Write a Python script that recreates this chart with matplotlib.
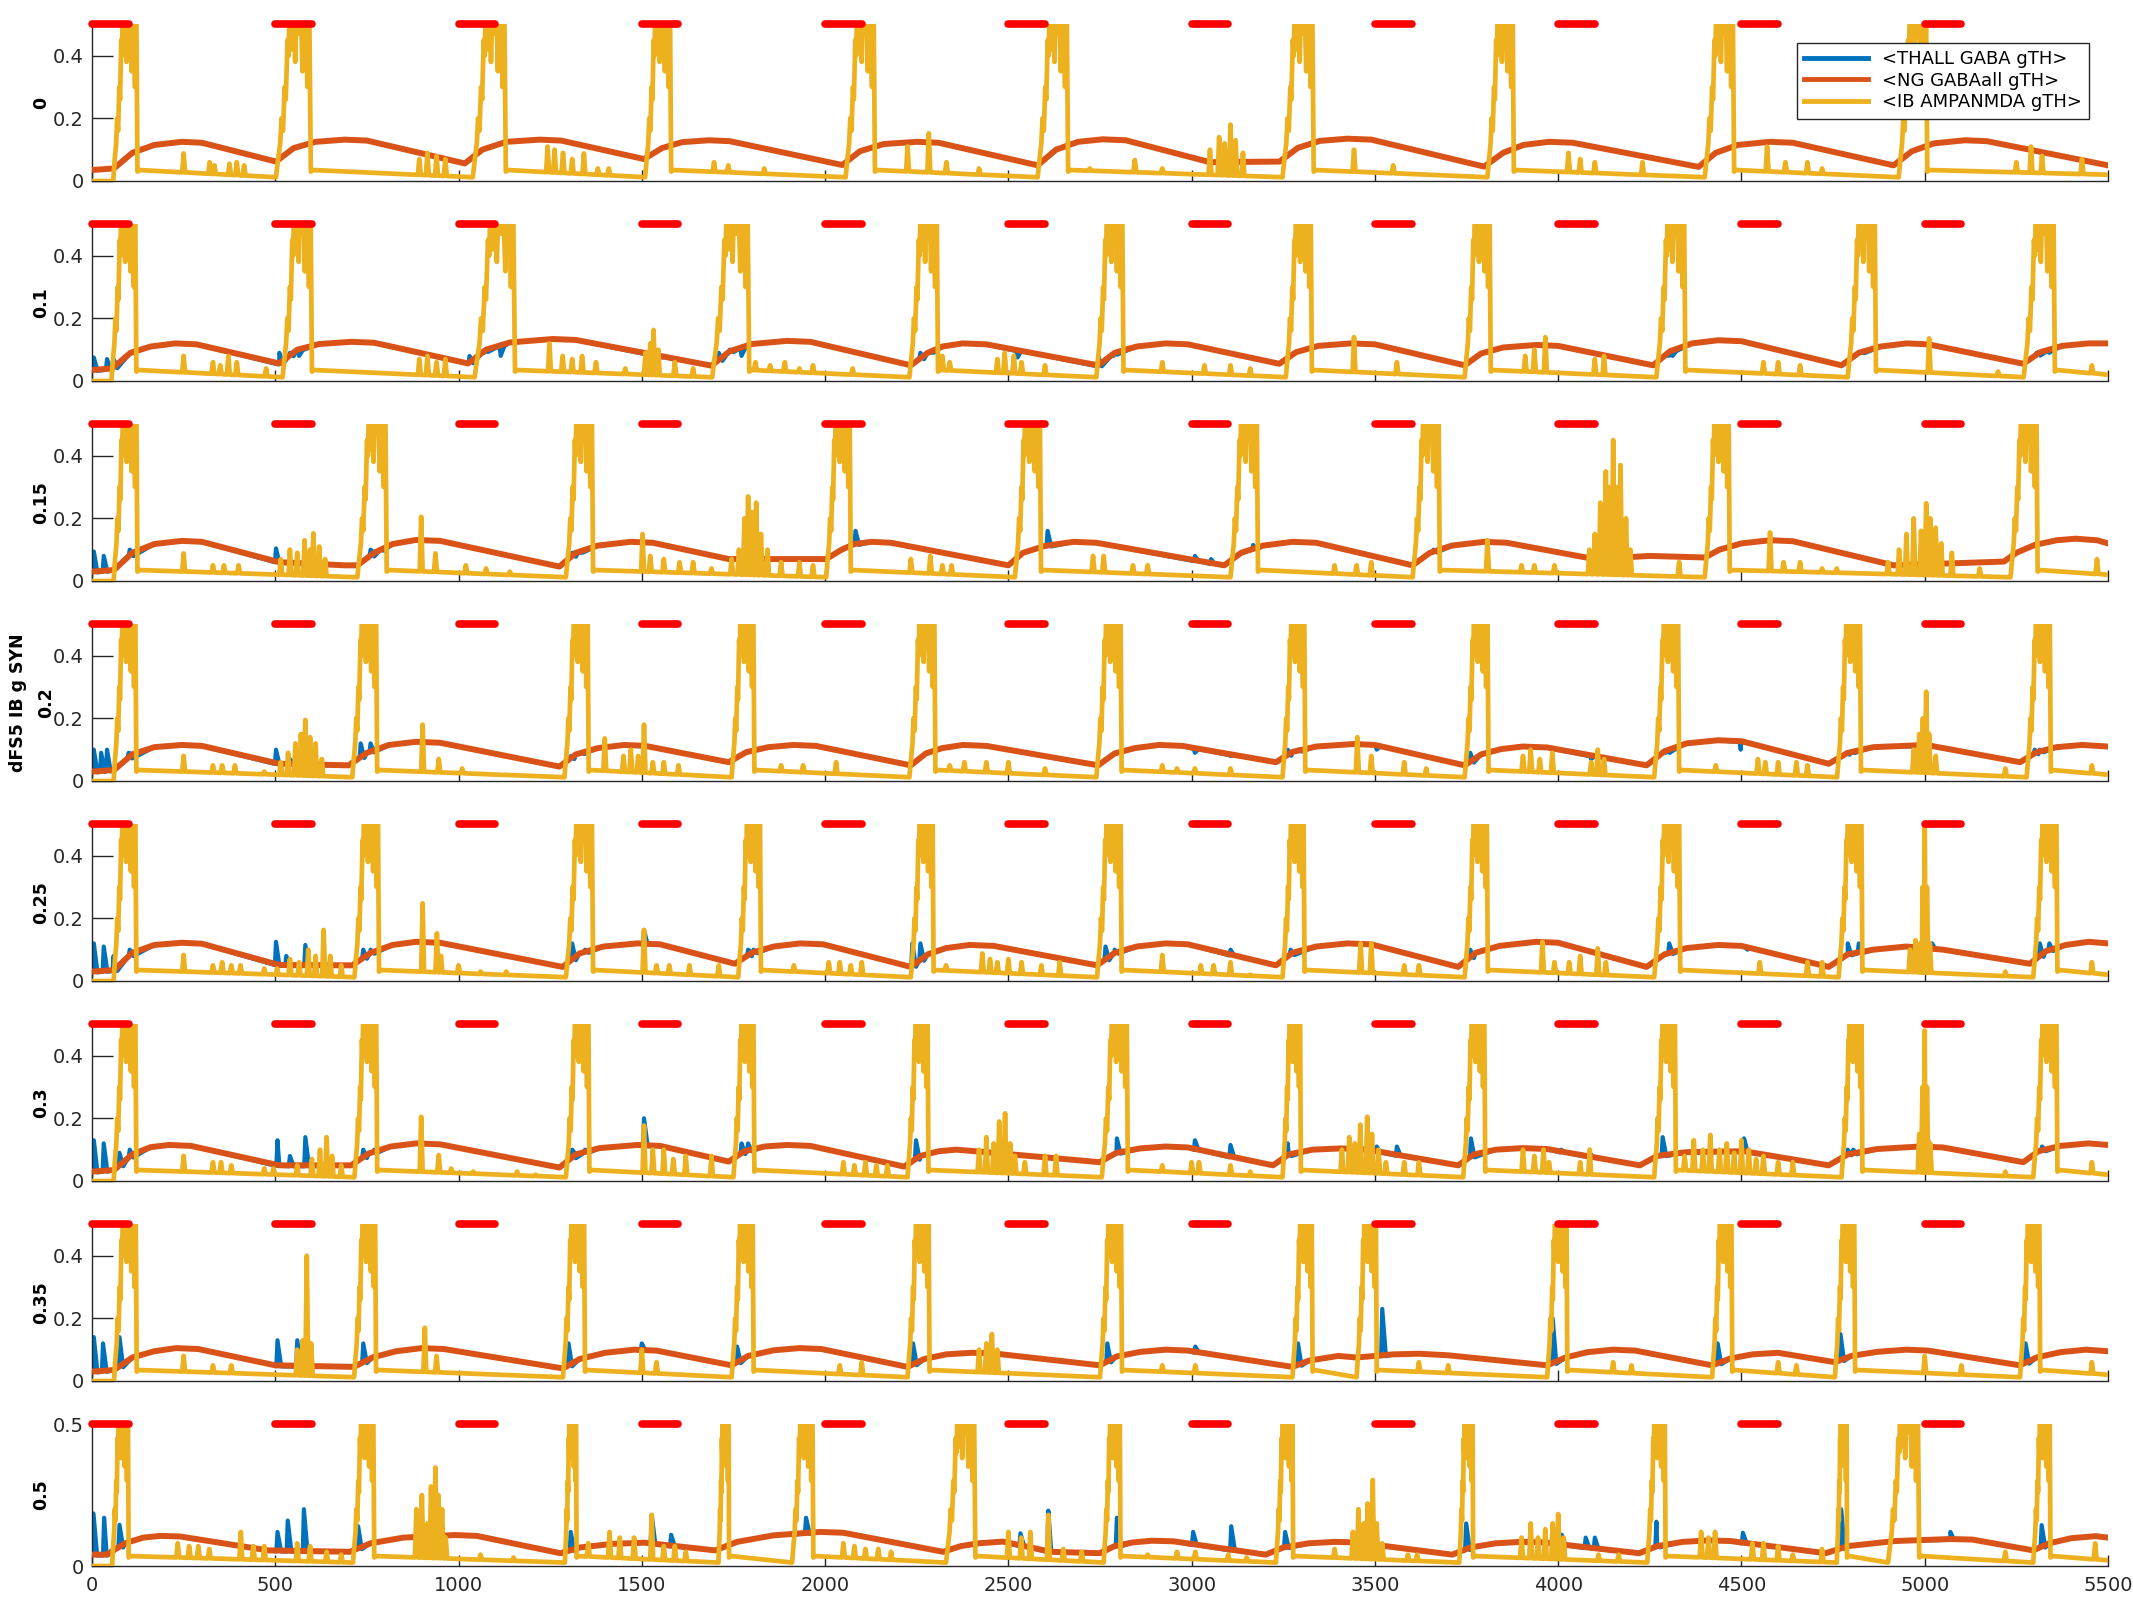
import numpy as np
import matplotlib.pyplot as plt
from matplotlib.lines import Line2D

T_END = 5500
stim_starts = [0, 500, 1000, 1500, 2000, 2500, 3000, 3500, 4000, 4500, 5000]
stim_len = 100
panel_labels = ['0', '0.1', '0.15', '0.2', '0.25', '0.3', '0.35', '0.5']
legend_labels = ['<THALL GABA gTH>', '<NG GABAall gTH>', '<IB AMPANMDA gTH>']

# ---- panel 0 ----
ib_bursts_g0 = [(58, 124), (502, 597), (1039, 1129), (1509, 1580), (2056, 2136), (2580, 2663),
                (3248, 3333), (3807, 3879), (4400, 4480), (4929, 5007)]
ib_spikes_g0 = [(250, .088), (321, .06), (334, .05), (375, .055), (395, .06), (415, .05), (893, .07),
                (915, .09), (940, .08), (964, .07), (1243, .11), (1262, .1), (1285, .09), (1310, .07),
                (1342, .088), (1380, .04), (1410, .04), (1697, .06), (1736, .05), (1834, .04), (2225, .11),
                (2283, .152), (2331, .06), (2420, .04), (2722, .04), (2845, .067), (2920, .04), (3050, .1),
                (3075, .14), (3090, .12), (3106, .18), (3120, .13), (3140, .09), (3443, .1), (3550, .05),
                (4028, .09), (4060, .07), (4100, .06), (4230, .06), (4570, .11), (4620, .06), (4680, .06),
                (4720, .04), (5250, .06), (5290, .11), (5320, .08), (5429, .07)]
ng_t_g0 = [0, 60, 110, 170, 245, 300, 502, 550, 610, 689, 750, 1017, 1065, 1130, 1222, 1280, 1506, 1555,
           1610, 1683, 1740, 2047, 2095, 2160, 2251, 2310, 2580, 2630, 2690, 2757, 2820, 3050, 3240, 3290,
           3350, 3425, 3490, 3798, 3850, 3905, 3975, 4040, 4383, 4430, 4490, 4578, 4640, 4915, 4965, 5025,
           5110, 5170, 5500]
ng_v_g0 = [.035, .04, .09, .115, .125, .122, .062, .105, .125, .132, .129, .056, .1, .125, .132, .129, .07,
           .105, .124, .13, .127, .051, .095, .118, .125, .122, .05, .1, .125, .133, .13, .06, .062, .106,
           .128, .135, .132, .046, .09, .115, .125, .122, .045, .09, .115, .125, .122, .05, .095, .12, .13,
           .127, .05]
th_spikes_g0 = []

# ---- panel 0.1 ----
ib_bursts_g01 = [(53, 121), (520, 600), (1044, 1154), (1692, 1793), (2230, 2308), (2740, 2814),
                 (3257, 3328), (3745, 3816), (4268, 4347), (4790, 4867), (5270, 5355)]
ib_spikes_g01 = [(250, .08), (330, .06), (350, .05), (372, .08), (395, .06), (475, .04), (893, .07),
                 (915, .08), (940, .06), (964, .07), (1248, .12), (1284, .08), (1310, .07), (1337, .08),
                 (1375, .06), (1455, .04), (1510, .09), (1523, .12), (1532, .163), (1545, .1), (1590, .06),
                 (1640, .04), (1810, .06), (1850, .05), (1890, .06), (1930, .04), (1967, .05), (2075, .04),
                 (2320, .08), (2340, .06), (2470, .07), (2490, .09), (2515, .08), (2536, .06), (2600, .05),
                 (2920, .06), (3035, .05), (3106, .05), (3160, .04), (3443, .14), (3560, .06), (3910, .08),
                 (3935, .1), (3965, .14), (4100, .07), (4125, .08), (4560, .06), (4600, .06), (4660, .05),
                 (5012, .136), (5200, .03), (5456, .05)]
ng_t_g01 = [0, 55, 105, 160, 227, 285, 511, 560, 620, 707, 770, 1026, 1075, 1140, 1257, 1320, 1690, 1740,
            1800, 1896, 1960, 2234, 2280, 2320, 2375, 2440, 2745, 2790, 2850, 2929, 2990, 3239, 3285, 3345,
            3434, 3500, 3745, 3790, 3850, 3940, 4000, 4259, 4305, 4365, 4436, 4500, 4773, 4820, 4880, 4950,
            5010, 5269, 5315, 5375, 5447, 5500]
ng_v_g01 = [.035, .04, .09, .11, .12, .117, .056, .1, .118, .125, .122, .056, .1, .123, .134, .131, .049,
            .095, .118, .128, .125, .05, .09, .11, .12, .117, .05, .09, .11, .12, .117, .055, .092, .112, .12,
            .117, .05, .088, .107, .115, .112, .05, .095, .12, .13, .127, .05, .09, .11, .12, .117, .055,
            .092, .112, .12, .12]
th_spikes_g01 = [(5, .075), (41, .07), (59, .07), (511, .09), (540, .09), (565, .08), (1030, .08),
                 (1070, .09), (1115, .08), (1520, .08), (1560, .08), (1594, .07), (1710, .09), (1740, .1),
                 (1772, .08), (2260, .09), (2287, .09), (2525, .075), (2745, .08), (2787, .08), (4294, .08),
                 (4312, .08), (4826, .09), (5305, .09), (5340, .09)]

# ---- panel 0.15 ----
ib_bursts_g015 = [(59, 124), (724, 804), (1293, 1367), (2003, 2070), (2518, 2589), (3106, 3181),
                  (3603, 3677), (4400, 4468), (5234, 5308)]
ib_spikes_g015 = [(250, .088), (330, .05), (360, .05), (400, .05), (515, .07), (540, .1), (560, .09),
                  (580, .13), (595, .1), (604, .152), (620, .11), (636, .07), (898, .205), (937, .088),
                  (1020, .05), (1075, .04), (1140, .03), (1502, .15), (1523, .08), (1560, .07), (1603, .06),
                  (1640, .06), (1690, .04), (1745, .07), (1765, .1), (1780, .2), (1790, .27), (1800, .22),
                  (1812, .25), (1825, .15), (1843, .1), (1880, .06), (1930, .06), (1967, .05), (2234, .07),
                  (2287, .08), (2320, .05), (2345, .05), (2731, .08), (2760, .08), (2840, .05), (2880, .05),
                  (3390, .05), (3450, .05), (3490, .06), (3807, .13), (3900, .05), (3935, .05), (3990, .05),
                  (4085, .1), (4100, .15), (4115, .25), (4130, .35), (4140, .3), (4150, .45), (4160, .3),
                  (4170, .37), (4185, .2), (4197, .1), (4330, .06), (4578, .155), (4615, .06), (4660, .06),
                  (4720, .04), (4760, .04), (4900, .06), (4930, .1), (4950, .15), (4970, .2), (4990, .16),
                  (5004, .248), (5015, .2), (5030, .17), (5045, .12), (5074, .09), (5150, .04), (5470, .07)]
ng_t_g015 = [0, 60, 110, 170, 245, 300, 511, 690, 724, 770, 820, 884, 950, 1275, 1320, 1380, 1470, 1530,
             1737, 1990, 2003, 2045, 2080, 2127, 2180, 2500, 2540, 2600, 2678, 2740, 3089, 3135, 3195, 3275,
             3340, 3603, 3650, 3710, 3798, 3860, 4099, 4250, 4400, 4440, 4500, 4578, 4640, 4915, 5216, 5250,
             5300, 5360, 5411, 5470, 5500]
ng_v_g015 = [.03, .035, .09, .118, .128, .125, .06, .05, .05, .09, .118, .131, .128, .046, .09, .113, .125,
             .122, .07, .07, .07, .1, .118, .125, .122, .05, .09, .112, .125, .122, .05, .09, .113, .125,
             .122, .05, .09, .113, .125, .122, .07, .08, .075, .1, .12, .13, .127, .05, .062, .09, .115, .13,
             .135, .13, .12]
th_spikes_g015 = [(5, .094), (32, .08), (103, .1), (502, .104), (760, .1), (787, .1), (1310, .09),
                  (1330, .09), (2083, .16), (2607, .16), (3009, .08), (3053, .07), (3168, .115), (3660, .1)]

# ---- panel 0.2 ----
ib_bursts_g02 = [(59, 121), (710, 778), (1289, 1355), (1745, 1807), (2230, 2301), (2740, 2809),
                 (3248, 3310), (3745, 3810), (4262, 4330), (4761, 4826), (5278, 5344)]
ib_spikes_g02 = [(250, .08), (330, .05), (355, .05), (390, .05), (470, .03), (515, .06), (535, .09),
                 (555, .12), (570, .15), (582, .195), (595, .14), (610, .12), (627, .07), (902, .18),
                 (946, .07), (1010, .04), (1130, .02), (1399, .136), (1450, .08), (1470, .1), (1490, .08),
                 (1506, .18), (1530, .06), (1560, .06), (1600, .05), (1880, .05), (1940, .05), (2030, .06),
                 (2340, .05), (2380, .06), (2440, .06), (2500, .06), (2600, .04), (2920, .05), (2960, .04),
                 (3009, .04), (3106, .04), (3452, .14), (3490, .08), (3580, .06), (3640, .04), (3904, .08),
                 (3925, .1), (3950, .07), (3984, .09), (4090, .06), (4108, .1), (4125, .07), (4430, .05),
                 (4545, .07), (4565, .06), (4600, .06), (4650, .06), (4680, .05), (4970, .1), (4985, .15),
                 (4995, .2), (5004, .285), (5012, .15), (5030, .08), (5220, .04), (5456, .05)]
ng_t_g02 = [0, 60, 110, 170, 245, 300, 511, 700, 750, 810, 884, 950, 1275, 1320, 1380, 1452, 1510, 1737,
            1785, 1845, 1914, 1975, 2234, 2275, 2320, 2376, 2440, 2745, 2790, 2845, 2911, 2975, 3230, 3275,
            3340, 3443, 3500, 3745, 3790, 3845, 3904, 3970, 4241, 4290, 4350, 4436, 4500, 4738, 4790, 4860,
            5004, 5260, 5305, 5360, 5429, 5500]
ng_v_g02 = [.03, .035, .085, .108, .115, .112, .055, .05, .09, .115, .125, .122, .046, .085, .105, .115,
            .112, .06, .092, .108, .115, .112, .05, .088, .105, .115, .112, .05, .088, .105, .115, .112, .06,
            .093, .11, .118, .115, .05, .085, .102, .11, .107, .05, .095, .12, .13, .127, .055, .09, .108,
            .115, .06, .092, .108, .115, .11]
th_spikes_g02 = [(5, .1), (25, .09), (41, .1), (100, .09), (502, .1), (540, .07), (582, .07), (733, .12),
                 (760, .12), (1306, .08), (1333, .09), (3009, .09), (3106, .08), (3262, .1), (3290, .1),
                 (3505, .1), (3760, .09), (4090, .07), (4290, .09), (4305, .09), (4498, .1), (4785, .09),
                 (4800, .09), (5004, .11), (5300, .1), (5314, .1)]

# ---- panel 0.25 ----
ib_bursts_g025 = [(59, 121), (716, 783), (1293, 1367), (1763, 1825), (2234, 2296), (2742, 2809),
                  (3248, 3308), (3745, 3808), (4262, 4333), (4765, 4830), (5296, 5362)]
ib_spikes_g025 = [(250, .083), (330, .05), (355, .06), (380, .05), (405, .05), (470, .04), (505, .04),
                  (540, .07), (565, .06), (590, .1), (610, .08), (632, .163), (650, .08), (680, .05),
                  (902, .248), (941, .152), (952, .08), (1000, .05), (1060, .03), (1130, .03), (1506, .163),
                  (1540, .05), (1575, .05), (1630, .05), (1710, .05), (1915, .05), (2010, .06), (2040, .06),
                  (2070, .05), (2100, .06), (2330, .05), (2429, .088), (2450, .07), (2470, .06), (2500, .07),
                  (2536, .06), (2590, .05), (2640, .06), (2920, .083), (3025, .05), (3060, .05), (3106, .06),
                  (3160, .02), (3461, .12), (3490, .12), (3580, .05), (3620, .05), (3957, .125), (3990, .06),
                  (4030, .06), (4060, .08), (4108, .104), (4130, .06), (4550, .06), (4680, .06), (4720, .06),
                  (4960, .1), (4975, .13), (4988, .12), (4994, .3), (5000, .56), (5006, .3), (5014, .12),
                  (5220, .03), (5456, .06)]
ng_t_g025 = [0, 60, 110, 170, 245, 300, 511, 710, 760, 820, 884, 950, 1284, 1330, 1395, 1488, 1550, 1754,
             1800, 1860, 1932, 1995, 2234, 2280, 2330, 2394, 2460, 2742, 2790, 2850, 2929, 2990, 3230, 3275,
             3340, 3425, 3490, 3727, 3775, 3840, 3940, 4000, 4241, 4290, 4350, 4436, 4500, 4738, 4790, 4860,
             4950, 5050, 5287, 5330, 5385, 5447, 5500]
ng_v_g025 = [.03, .035, .09, .115, .122, .119, .051, .05, .09, .115, .125, .122, .045, .088, .11, .12, .117,
             .055, .09, .11, .12, .117, .045, .085, .105, .115, .112, .05, .09, .11, .12, .117, .05, .09, .11,
             .12, .117, .045, .09, .112, .125, .122, .045, .085, .105, .115, .112, .045, .085, .1, .11, .1,
             .055, .095, .115, .125, .12]
th_spikes_g025 = [(5, .12), (32, .11), (59, .08), (103, .1), (502, .125), (530, .08), (582, .115),
                  (740, .1), (760, .1), (1310, .12), (1345, .1), (1506, .163), (1790, .1), (1805, .1),
                  (2238, .12), (2260, .12), (2765, .11), (2790, .1), (3106, .1), (3270, .1), (3760, .1),
                  (4303, .12), (4516, .1), (4790, .12), (4820, .12), (5020, .12), (5314, .12), (5340, .12)]

# ---- panel 0.3 ----
ib_bursts_g03 = [(59, 121), (716, 778), (1293, 1357), (1750, 1807), (2225, 2282), (2755, 2826),
                 (3248, 3298), (3741, 3801), (4262, 4321), (4773, 4830), (5296, 5362)]
ib_spikes_g03 = [(250, .08), (330, .06), (352, .06), (380, .05), (470, .04), (495, .04), (560, .05),
                 (600, .07), (622, .1), (640, .14), (655, .08), (680, .05), (898, .205), (946, .083),
                 (980, .04), (1040, .03), (1160, .03), (1210, .02), (1506, .177), (1530, .1), (1560, .1),
                 (1586, .07), (1620, .08), (1690, .08), (2050, .06), (2080, .05), (2110, .06), (2140, .05),
                 (2170, .05), (2420, .1), (2440, .14), (2460, .12), (2475, .19), (2491, .216), (2505, .12),
                 (2518, .08), (2545, .06), (2600, .08), (2630, .08), (2920, .05), (3000, .06), (3020, .06),
                 (3106, .05), (3160, .03), (3410, .1), (3430, .14), (3445, .12), (3460, .18), (3479, .205),
                 (3492, .15), (3510, .1), (3530, .06), (3580, .06), (3620, .06), (3904, .1), (3935, .08),
                 (3960, .1), (3975, .06), (4060, .06), (4086, .1), (4345, .08), (4370, .13), (4395, .1),
                 (4415, .147), (4440, .1), (4460, .12), (4480, .09), (4500, .13), (4520, .1), (4540, .07),
                 (4560, .08), (4600, .06), (4640, .06), (4985, .15), (4994, .3), (5000, .48), (5006, .3),
                 (5015, .12), (5220, .03), (5456, .06)]
ng_t_g03 = [0, 60, 110, 160, 210, 270, 511, 707, 755, 815, 884, 950, 1275, 1320, 1385, 1488, 1550, 1737,
            1780, 1835, 1896, 1960, 2216, 2260, 2310, 2358, 2460, 2749, 2795, 2860, 2929, 2990, 3222, 3265,
            3330, 3408, 3480, 3727, 3770, 3830, 3904, 3970, 4223, 4270, 4350, 4507, 4738, 4790, 4870, 4986,
            5050, 5269, 5310, 5370, 5447, 5500]
ng_v_g03 = [.03, .035, .085, .108, .115, .112, .05, .05, .088, .11, .12, .117, .043, .085, .105, .115, .112,
            .062, .095, .11, .115, .112, .046, .08, .095, .1, .09, .06, .09, .104, .11, .107, .05, .085, .1,
            .104, .1, .05, .085, .1, .105, .102, .05, .08, .092, .095, .05, .085, .102, .11, .107, .06, .095,
            .112, .12, .115]
th_spikes_g03 = [(5, .13), (32, .12), (75, .09), (103, .1), (506, .13), (540, .08), (582, .14), (740, .1),
                 (770, .1), (1310, .1), (1345, .1), (1506, .2), (1772, .12), (1790, .12), (2248, .13),
                 (2796, .136), (3009, .13), (3106, .115), (3262, .12), (3505, .11), (3560, .11),
                 (3762, .136), (4008, .1), (4086, .09), (4285, .14), (4507, .136), (4790, .1), (4805, .1),
                 (5005, .15), (5320, .11)]

# ---- panel 0.35 ----
ib_bursts_g035 = [(60, 122), (715, 775), (1285, 1345), (1745, 1805), (2225, 2285), (2750, 2810),
                  (3275, 3330), (3450, 3505), (3970, 4025), (4420, 4475), (4755, 4810), (5260, 5315)]
ib_spikes_g035 = [(250, .08), (330, .05), (380, .05), (560, .1), (575, .13), (586, .4), (598, .12),
                  (908, .17), (940, .08), (1500, .1), (1540, .06), (2040, .05), (2100, .06), (2420, .1),
                  (2440, .12), (2455, .15), (2470, .1), (2920, .05), (3010, .05), (3620, .06), (3700, .05),
                  (4150, .06), (4200, .05), (4600, .06), (4650, .05), (5000, .08), (5100, .05), (5456, .06)]
ng_t_g035 = [0, 60, 110, 170, 230, 290, 500, 715, 765, 830, 900, 960, 1285, 1330, 1400, 1480, 1540, 1745,
             1790, 1860, 1930, 1990, 2225, 2270, 2330, 2400, 2460, 2750, 2795, 2860, 2930, 2990, 3275, 3320,
             3400, 3450, 3500, 3550, 3620, 3700, 3970, 4020, 4080, 4150, 4210, 4420, 4470, 4530, 4600, 4755,
             4800, 4870, 4950, 5010, 5260, 5305, 5370, 5440, 5500]
ng_v_g035 = [.03, .035, .075, .095, .105, .102, .05, .045, .075, .095, .105, .102, .04, .07, .09, .1, .097,
             .05, .08, .098, .105, .102, .045, .07, .085, .09, .088, .05, .078, .093, .1, .097, .045, .065,
             .08, .075, .08, .085, .087, .082, .05, .075, .092, .1, .097, .05, .072, .085, .09, .06, .08,
             .093, .1, .097, .05, .075, .092, .1, .095]
th_spikes_g035 = [(5, .14), (30, .12), (75, .14), (506, .13), (560, .13), (740, .12), (1300, .12),
                  (1500, .12), (1760, .11), (2240, .12), (2770, .12), (3010, .11), (3290, .12), (3520, .23),
                  (3985, .2), (4435, .12), (4770, .15), (5275, .12)]

# ---- panel 0.5 ----
ib_bursts_g05 = [(55, 100), (712, 770), (1290, 1322), (1709, 1738), (1910, 1968), (2330, 2410),
                 (2760, 2806), (3230, 3277), (3730, 3768), (4243, 4293), (4760, 4788), (4900, 4985),
                 (5296, 5343)]
ib_spikes_g05 = [(234, .08), (265, .07), (290, .07), (320, .06), (406, .12), (440, .07), (470, .07),
                 (560, .08), (595, .07), (640, .05), (680, .04), (885, .2), (900, .25), (915, .15),
                 (925, .28), (937, .347), (945, .25), (955, .2), (965, .1), (1060, .04), (1150, .03),
                 (1354, .08), (1412, .12), (1440, .1), (1479, .1), (1527, .18), (1560, .07), (1590, .07),
                 (1620, .05), (2050, .08), (2080, .07), (2110, .06), (2145, .06), (2180, .05), (2500, .12),
                 (2535, .1), (2560, .12), (2609, .18), (2650, .06), (2700, .05), (2880, .04), (2960, .05),
                 (3010, .05), (3100, .04), (3150, .03), (3390, .06), (3440, .12), (3455, .2), (3470, .15),
                 (3480, .22), (3494, .303), (3505, .15), (3520, .08), (3590, .04), (3615, .04), (3900, .1),
                 (3925, .15), (3945, .1), (3965, .13), (3985, .15), (4000, .183), (4015, .1), (4110, .04),
                 (4165, .04), (4390, .12), (4410, .1), (4428, .12), (4530, .08), (4560, .08), (4600, .07),
                 (4640, .04), (4720, .06), (5220, .05), (5465, .08)]
ng_t_g05 = [0, 40, 90, 140, 186, 240, 480, 703, 760, 850, 990, 1050, 1278, 1330, 1420, 1508, 1700, 1760,
            1860, 1987, 2050, 2322, 2370, 2420, 2485, 2617, 2749, 2790, 2840, 2891, 2950, 3202, 3250, 3320,
            3391, 3450, 3711, 3760, 3830, 3900, 3960, 4221, 4270, 4340, 4409, 4470, 4730, 4790, 4920, 5070,
            5130, 5296, 5340, 5400, 5466, 5500]
ng_v_g05 = [.04, .04, .08, .1, .106, .104, .055, .05, .08, .1, .109, .106, .045, .065, .078, .082, .055,
            .085, .108, .12, .117, .05, .07, .08, .086, .05, .045, .07, .083, .089, .087, .04, .065, .08,
            .085, .083, .04, .065, .08, .085, .083, .045, .07, .085, .09, .088, .045, .07, .088, .095, .093,
            .055, .08, .098, .105, .1]
th_spikes_g05 = [(4, .185), (33, .17), (75, .145), (506, .12), (534, .16), (578, .2), (726, .14),
                 (1306, .12), (1527, .18), (1580, .11), (1948, .17), (2533, .115), (2609, .195), (2796, .17),
                 (3004, .12), (3108, .14), (3255, .12), (3749, .15), (4010, .11), (4075, .1), (4100, .1),
                 (4268, .156), (4504, .117), (4772, .2), (5070, .12), (5319, .144)]

panels = [
    (ib_bursts_g0, ib_spikes_g0, ng_t_g0, ng_v_g0, th_spikes_g0),
    (ib_bursts_g01, ib_spikes_g01, ng_t_g01, ng_v_g01, th_spikes_g01),
    (ib_bursts_g015, ib_spikes_g015, ng_t_g015, ng_v_g015, th_spikes_g015),
    (ib_bursts_g02, ib_spikes_g02, ng_t_g02, ng_v_g02, th_spikes_g02),
    (ib_bursts_g025, ib_spikes_g025, ng_t_g025, ng_v_g025, th_spikes_g025),
    (ib_bursts_g03, ib_spikes_g03, ng_t_g03, ng_v_g03, th_spikes_g03),
    (ib_bursts_g035, ib_spikes_g035, ng_t_g035, ng_v_g035, th_spikes_g035),
    (ib_bursts_g05, ib_spikes_g05, ng_t_g05, ng_v_g05, th_spikes_g05),
]

C_BLUE = '#0072BD'
C_ORANGE = '#D95319'
C_YELLOW = '#EDB120'

# burst outline: (fraction of burst duration, level); the plateau gets clipped at the axis top
BURST_SHAPE = [(0.05, .06), (0.12, .12), (0.16, .2), (0.2, .16), (0.25, .3), (0.28, .26), (0.33, .45),
               (0.36, .4), (0.4, .6), (0.45, .42), (0.5, .6), (0.55, .38), (0.6, .6), (0.65, .47),
               (0.7, .6), (0.76, .35), (0.8, .6), (0.86, .6), (0.9, .3), (0.93, .6), (0.96, .5), (1.0, .03)]


def ib_trace(bursts, spikes):
    base = [(0.0, 0.0), (bursts[0][0], 0.0)]
    for i, (on, off) in enumerate(bursts):
        if i + 1 < len(bursts):
            base += [(off + 6, .035), (bursts[i + 1][0], .012)]
        else:
            base += [(off + 6, .035), (T_END, .02)]
    bt = np.array([p[0] for p in base])
    bv = np.array([p[1] for p in base])
    pts = list(base)
    for on, off in bursts:
        w = off - on
        pts += [(on + f * w, v) for f, v in BURST_SHAPE]
    for t, h in spikes:
        if any(on - 5 <= t <= off + 8 for on, off in bursts):
            continue
        b = np.interp(t, bt, bv)
        pts += [(t - 4, b), (t, h), (t + 4, b)]
    pts.sort(key=lambda p: p[0])
    return [p[0] for p in pts], [p[1] for p in pts]


def th_trace(ng_t, ng_v, spikes):
    pts = list(zip(ng_t, ng_v))
    for t, h in spikes:
        b = np.interp(t, ng_t, ng_v) - 0.003
        pts += [(max(t - 3, 0), b), (t, h), (t + 10, b)]
    pts.sort(key=lambda p: p[0])
    return [p[0] for p in pts], [p[1] for p in pts]


plt.rcParams['font.family'] = ['DejaVu Sans']
fig = plt.figure(figsize=(21.33, 16), dpi=100)
W, H = 2133.0, 1600.0
ax_left, ax_w = 92 / W, 2016 / W

for k, (bursts, spikes, ng_t, ng_v, th_sp) in enumerate(panels):
    if k < 7:
        top, bot = 24.3 + 200 * k, 181 + 200 * k
    else:
        top, bot = 1424, 1566
    ax = fig.add_axes([ax_left, 1 - bot / H, ax_w, (bot - top) / H])

    bx, by = th_trace(ng_t, ng_v, th_sp)
    ax.plot(bx, by, color=C_BLUE, lw=3, zorder=2)
    ax.plot(ng_t, ng_v, color=C_ORANGE, lw=4.3, zorder=3, solid_joinstyle='round')
    yx, yy = ib_trace(bursts, spikes)
    ax.plot(yx, yy, color=C_YELLOW, lw=3.4, zorder=4)
    for s in stim_starts:
        ax.plot([s, s + stim_len], [0.5, 0.5], color='#FF0000', lw=5.5,
                solid_capstyle='round', clip_on=False, zorder=5)

    ax.set_xlim(0, T_END)
    ax.set_ylim(0, 0.5)
    ax.set_xticks(np.arange(0, 5501, 500))
    if k < 7:
        ax.set_yticks([0, 0.2, 0.4])
        ax.set_yticklabels(['0', '0.2', '0.4'])
        ax.set_xticklabels([])
    else:
        ax.set_yticks([0, 0.5])
        ax.set_yticklabels(['0', '0.5'])
    ax.spines['top'].set_visible(False)
    ax.spines['right'].set_visible(False)
    for sp in ('left', 'bottom'):
        ax.spines[sp].set_color('#262626')
        ax.spines[sp].set_linewidth(1.0)
    ax.tick_params(axis='both', direction='in', colors='#262626', labelsize=14, width=1)
    ax.tick_params(axis='y', length=15, pad=6)
    ax.tick_params(axis='x', length=8, pad=7)
    if k == 3:
        ax.set_ylabel('dFS5 IB g SYN\n' + panel_labels[k], fontsize=12.5, fontweight='bold',
                      linespacing=1.7)
        ax.yaxis.set_label_coords(-0.0185, 0.5)
    else:
        ax.set_ylabel(panel_labels[k], fontsize=12.5, fontweight='bold')
        ax.yaxis.set_label_coords(-0.021, 0.5)

    if k == 0:
        handles = [Line2D([], [], color=c, lw=3.5) for c in (C_BLUE, C_ORANGE, C_YELLOW)]
        leg = ax.legend(handles, legend_labels, loc='upper right', bbox_to_anchor=(0.9906, 0.881),
                        borderaxespad=0, fontsize=13, handlelength=3.5, labelspacing=0.2,
                        fancybox=False, framealpha=1, edgecolor='#262626')
        leg.get_frame().set_linewidth(1.0)
        leg.set_zorder(10)

fig.savefig('out.png', dpi=100, facecolor='white')
